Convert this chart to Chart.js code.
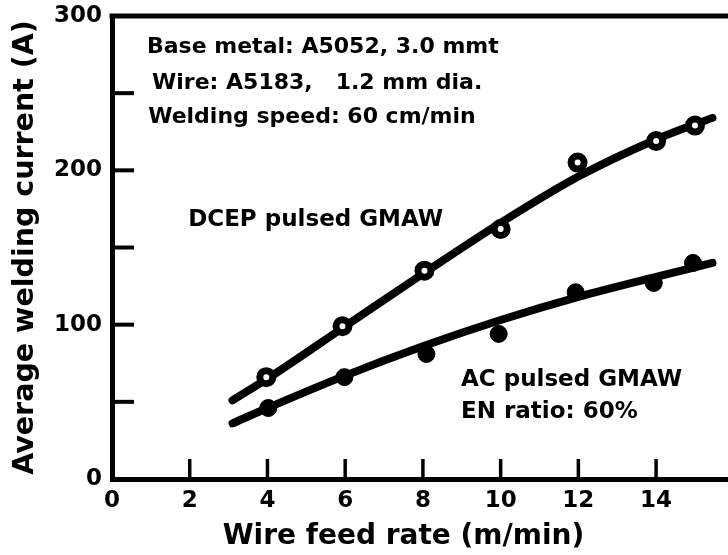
<!DOCTYPE html>
<html>
<head>
<meta charset="utf-8">
<title>Average welding current vs wire feed rate</title>
<script src="https://cdn.jsdelivr.net/npm/chart.js@4.4.1/dist/chart.umd.min.js"></script>
<style>
	html,body{margin:0;padding:0;background:#fff;}
	canvas{display:block;}
</style>
</head>
<body>
<canvas id="chart" width="728" height="555"></canvas>
<script>
// measured points, DCEP pulsed GMAW (open circles)
const dcepFeed=[3.97,5.93,8.04,10.0,11.98,14.0,15.0];
const dcepCurrent=[66,99,135,162,205,219,229];
// measured points, AC pulsed GMAW (filled circles)
const acFeed=[4.02,5.98,8.09,9.95,11.93,13.94,14.95];
const acCurrent=[46,66,81,94,121,127,140];
// fitted curves drawn through the points
const dcepFitFeed=[3.1,4,6,8,10,12,14,15.45];
const dcepFitCurrent=[51,65,99,133,166,196,220,234];
const acFitFeed=[3.1,4,6,8,10,12,14,15.45];
const acFitCurrent=[36,46,67,86,103,118,131,140];
// axes
const xTicks=[0,2,4,6,8,10,12,14];
const yTicks=[0,50,100,150,200,250,300];
const yLabels=[0,100,200,300];

const FONT="'DejaVu Sans'";

// text written inside the plot, anchored in data units
const notes=[
	{text:"Base metal: A5052, 3.0 mmt",x:0.9,y:280,size:22},
	{text:"Wire: A5183,   1.2 mm dia.",x:1.03,y:256.5,size:22},
	{text:"Welding speed: 60 cm/min",x:0.93,y:234.5,size:22},
	{text:"DCEP pulsed GMAW",x:1.96,y:168,size:23},
	{text:"AC pulsed GMAW",x:8.98,y:64,size:23},
	{text:"EN ratio: 60%",x:8.98,y:43.5,size:23}
];

function toPoints(xs,ys){
	return xs.map((x,i)=>({x:x,y:ys[i]}));
}

const framePlugin={
	id:"frame",
	afterDraw(chart){
		let ctx=chart.ctx,
			area=chart.chartArea,
			xs=chart.scales.x,
			ys=chart.scales.y;
		ctx.save();
		ctx.strokeStyle="#000";
		ctx.lineCap="butt";

		// top edge of the frame
		ctx.lineWidth=5;
		ctx.beginPath();
		ctx.moveTo(area.left-2.5,area.top);
		ctx.lineTo(area.right,area.top);
		ctx.stroke();

		// inward ticks
		ctx.lineWidth=4;
		yTicks.filter((v)=>v>0&&v<300).forEach((v)=>{
			let py=ys.getPixelForValue(v);
			ctx.beginPath();
			ctx.moveTo(area.left,py);
			ctx.lineTo(area.left+22,py);
			ctx.stroke();
		});
		ctx.lineWidth=3.5;
		xTicks.filter((v)=>v>0).forEach((v)=>{
			let px=xs.getPixelForValue(v);
			ctx.beginPath();
			ctx.moveTo(px,area.bottom);
			ctx.lineTo(px,area.bottom-20);
			ctx.stroke();
		});

		// notes
		ctx.fillStyle="#000";
		ctx.textBaseline="middle";
		ctx.textAlign="left";
		notes.forEach((n)=>{
			ctx.font="bold "+n.size+"px "+FONT;
			ctx.fillText(n.text,xs.getPixelForValue(n.x),ys.getPixelForValue(n.y));
		});

		// x axis title, centred under the middle of the drawn range
		ctx.font="bold 28px "+FONT;
		ctx.textAlign="center";
		ctx.fillText("Wire feed rate (m/min)",xs.getPixelForValue(7.5),537);
		ctx.restore();
	}
};

new Chart(document.getElementById("chart"),{
	type:"scatter",
	data:{
		datasets:[
			{
				label:"DCEP pulsed GMAW",
				data:toPoints(dcepFeed,dcepCurrent),
				pointStyle:"circle",
				pointRadius:6.5,
				borderWidth:7,
				borderColor:"#000",
				backgroundColor:"#fff",
				order:0
			},
			{
				label:"AC pulsed GMAW",
				data:toPoints(acFeed,acCurrent),
				pointStyle:"circle",
				pointRadius:8.5,
				borderWidth:1,
				borderColor:"#000",
				backgroundColor:"#000",
				order:0
			},
			{
				label:"DCEP fit",
				data:toPoints(dcepFitFeed,dcepFitCurrent),
				showLine:true,
				pointRadius:0,
				borderWidth:8,
				borderColor:"#000",
				borderCapStyle:"round",
				cubicInterpolationMode:"monotone",
				order:1
			},
			{
				label:"AC fit",
				data:toPoints(acFitFeed,acFitCurrent),
				showLine:true,
				pointRadius:0,
				borderWidth:8,
				borderColor:"#000",
				borderCapStyle:"round",
				cubicInterpolationMode:"monotone",
				order:1
			}
		]
	},
	options:{
		responsive:false,
		animation:false,
		events:[],
		layout:{
			autoPadding:false,
			padding:{top:16,right:0,left:0,bottom:0}
		},
		plugins:{
			legend:{display:false},
			tooltip:{enabled:false}
		},
		scales:{
			x:{
				type:"linear",
				min:0,
				max:15.85,
				afterFit:(s)=>{
					s.height=76;
					s.paddingRight=0;
				},
				grid:{display:false,drawTicks:false},
				border:{display:true,color:"#000",width:5},
				ticks:{
					stepSize:2,
					includeBounds:false,
					padding:8,
					color:"#000",
					font:{family:FONT,size:23,weight:"bold"},
					callback:(v)=>(xTicks.includes(v)?String(v):"")
				}
			},
			y:{
				type:"linear",
				min:0,
				max:300,
				afterFit:(s)=>{
					s.width=112;
					s.paddingTop=0;
					s.paddingBottom=0;
				},
				grid:{display:false,drawTicks:false},
				border:{display:true,color:"#000",width:5},
				ticks:{
					stepSize:50,
					padding:10,
					color:"#000",
					font:{family:FONT,size:23,weight:"bold"},
					callback:(v)=>(yLabels.includes(v)?String(v):"")
				},
				title:{
					display:true,
					text:"Average welding current (A)",
					color:"#000",
					padding:{top:8,bottom:0},
					font:{family:FONT,size:28.5,weight:"bold",lineHeight:1.2}
				}
			}
		}
	},
	plugins:[framePlugin]
});
</script>
</body>
</html>
